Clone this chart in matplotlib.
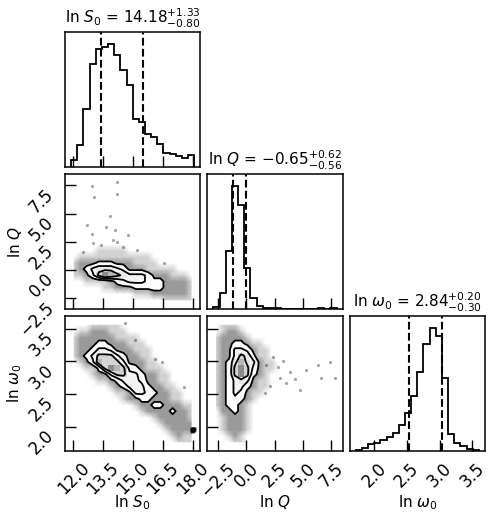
import numpy as np
import matplotlib.pyplot as plt
from matplotlib.colors import LinearSegmentedColormap, PowerNorm

labels = ["ln $S_0$", "ln $Q$", r"ln $\omega_0$"]
medians = [14.18, -0.65, 2.84]
err_lo = [0.80, 0.56, 0.30]
err_hi = [1.33, 0.62, 0.20]
# sample range of each parameter (edges of the 20 histogram bins)
rng_lo = [11.89, -2.91, 1.72]
rng_hi = [18.08, 7.96, 3.60]
ticks = [[12.0, 13.5, 15.0, 16.5, 18.0],
         [-2.5, 0.0, 2.5, 5.0, 7.5],
         [2.0, 2.5, 3.0, 3.5]]

# 1d marginals (counts per bin)
hist_S0 = [22, 65, 175, 310, 355, 360, 368, 335, 290, 245,
           145, 135, 100, 90, 70, 42, 38, 32, 28, 35]
hist_Q = [2, 16, 58, 122, 103, 41, 11, 3.3, 1, 0.5,
          0.5, 0.4, 0.3, 0.3, 0, 0.3, 0, 1.2, 0, 0.5]
hist_w0 = [3, 10, 20, 25, 32, 43, 53, 77, 115, 165,
           235, 320, 367, 343, 217, 50, 25, 15, 7, 3]
hists = [hist_S0, hist_Q, hist_w0]

# 2d densities on the same 20x20 bins, 0-9 scale, top row = highest y bin
dens_S0_Q = [
    "00000000000000000000",
    "00000000000000000000",
    "00000000000000000000",
    "00000000000000000000",
    "00000000000000000000",
    "00000000000000000000",
    "00000000000000000000",
    "00000000000000000000",
    "00000000000000000000",
    "00000000000000000000",
    "00000000000000000000",
    "00001111100000000000",
    "01111111111110000000",
    "12223332221111000000",
    "12356665422211111000",
    "11247987655542221110",
    "00111123455543322221",
    "00000112223333322221",
    "00000000001112222221",
    "00000000000000011111",
]
dens_S0_w0 = [
    "00011111000000000000",
    "01122211100000000000",
    "12222221111000000000",
    "12223322211100000000",
    "12235542221110000000",
    "12357775322110000000",
    "01248777522211000000",
    "00113798743211100000",
    "00012257755322110000",
    "00001123555422110000",
    "00000012355532211000",
    "00000001125543221100",
    "00000000122332221100",
    "00000000001223322211",
    "00000000000122223221",
    "00000000000001222221",
    "00000000000000122222",
    "00000000000000012222",
    "00000000000000001211",
    "00000000000000000111",
]
dens_Q_w0 = [
    "01110000000000000000",
    "01221000000000000000",
    "12222100000000000000",
    "12233211000000000000",
    "12255421100000000000",
    "12257631100000000000",
    "12368652110000000000",
    "12379742110000000000",
    "12379732100000000000",
    "12356521100000000000",
    "12355321100000000000",
    "12354211000000000000",
    "12343210000000000000",
    "12332100000000000000",
    "02232100000000000000",
    "01222100000000000000",
    "01222100000000000000",
    "01222100000000000000",
    "00121000000000000000",
    "00011000000000000000",
]

# stray samples outside the main cloud
out_S0_Q_x = [12.93, 13.06, 14.19, 14.22, 13.85, 12.93, 13.65, 14.77, 14.10, 14.02,
              16.54, 14.19, 12.68, 13.40, 14.50, 13.00, 15.20, 12.50]
out_S0_Q_y = [7.44, 6.43, 6.72, 7.83, 4.79, 3.21, 3.81, 3.06, 3.51, 2.62,
              0.60, 2.47, 3.96, 2.20, 2.00, 2.40, 1.80, 1.60]
out_S0_w0_x = [14.61, 15.11, 16.12, 16.46, 17.55]
out_S0_w0_y = [3.58, 3.33, 3.04, 2.99, 2.60]
out_Q_w0_x = [2.35, 3.24, 2.80, 3.82, 2.94, 4.26, 3.53, 4.70, 6.33, 7.35,
              6.62, 7.79, 5.29, 2.05, 1.76, 1.61]
out_Q_w0_y = [3.07, 3.00, 2.91, 2.83, 2.75, 2.73, 2.67, 2.56, 2.95, 2.99,
              2.74, 2.74, 2.86, 2.62, 2.94, 2.52]
# pile-up of samples at the upper S0 edge
pile_x = [17.95, 18.00, 18.05, 17.98, 18.03, 18.01]
pile_y = [1.96, 1.95, 1.96, 1.94, 1.95, 1.97]

pairs = {(1, 0): (dens_S0_Q, out_S0_Q_x, out_S0_Q_y),
         (2, 0): (dens_S0_w0, out_S0_w0_x, out_S0_w0_y),
         (2, 1): (dens_Q_w0, out_Q_w0_x, out_Q_w0_y)}

cloud_cmap = LinearSegmentedColormap.from_list(
    "cloud", ["white", "#d2d2d2", "#9a9a9a"])
dens_cmap = LinearSegmentedColormap.from_list(
    "dens", [(1, 1, 1, 0), (0, 0, 0, 1)])


def edges(k):
    return np.linspace(rng_lo[k], rng_hi[k], len(hists[k]) + 1)


def lims(k):
    pad = 0.05 * (rng_hi[k] - rng_lo[k])
    return rng_lo[k] - pad, rng_hi[k] + pad


def draw_2d(ax, grid, xk, yk, ox, oy):
    H = np.array([[int(c) for c in row] for row in grid[::-1]], float)
    xe, ye = edges(xk), edges(yk)
    xc = 0.5 * (xe[1:] + xe[:-1])
    yc = 0.5 * (ye[1:] + ye[:-1])
    ax.pcolormesh(xc, yc, np.minimum(H, 2), cmap=cloud_cmap, vmin=0, vmax=2,
                  shading="gouraud")
    ax.plot(ox, oy, "o", ms=2.3, color="k", alpha=0.35, mec="none")
    ax.contourf(xc, yc, H, [2.5, 99], colors="white")
    ax.pcolormesh(xe, ye, np.ma.masked_less(H, 3), cmap=dens_cmap,
                  norm=PowerNorm(2, vmin=0, vmax=11), antialiased=False)
    ax.contour(xc, yc, H, [2.5, 4.5, 6.5], colors="k", linewidths=1.3)


fig, axes = plt.subplots(3, 3, figsize=(4.99, 5.17), dpi=100)
fig.subplots_adjust(left=65 / 499, right=485 / 499, bottom=1 - 451 / 517,
                    top=1 - 32 / 517, wspace=0.052, hspace=0.052)

for i in range(3):
    for j in range(3):
        ax = axes[i, j]
        if j > i:
            ax.set_axis_off()
            continue
        for s in ax.spines.values():
            s.set_linewidth(1.1)
        ax.tick_params(direction="in", length=8, width=1.0, labelsize=12)
        ax.set_xlim(*lims(j))
        ax.set_xticks(ticks[j])
        if i == j:
            ax.stairs(hists[i], edges(i), color="k", lw=1.3)
            ax.set_ylim(0, 1.1 * max(hists[i]))
            ax.set_yticks([])
            for q in (medians[i] - err_lo[i], medians[i] + err_hi[i]):
                ax.axvline(q, color="k", ls="--", lw=1.5)
            ax.set_title("%s = $%.2f_{-%.2f}^{+%.2f}$"
                         % (labels[i], medians[i], err_lo[i], err_hi[i]),
                         fontsize=11)
        else:
            grid, ox, oy = pairs[(i, j)]
            draw_2d(ax, grid, j, i, ox, oy)
            if (i, j) == (2, 0):
                ax.plot(pile_x, pile_y, "s", ms=2.5, color="k", alpha=0.8,
                        mec="none")
            ax.set_ylim(*lims(i))
            ax.set_yticks(ticks[i])
            if j == 0:
                ax.tick_params(axis="y", labelrotation=45, pad=5.5)
                plt.setp(ax.get_yticklabels(), va="top")
                ax.set_ylabel(labels[i], fontsize=11)
                ax.yaxis.set_label_coords(-0.3, 0.5)
            else:
                ax.set_yticklabels([])
        if i == 2:
            ax.tick_params(axis="x", labelrotation=45, pad=6)
            ax.set_xlabel(labels[j], fontsize=11)
            ax.xaxis.set_label_coords(0.5, -0.31)
        else:
            ax.set_xticklabels([])

fig.savefig("out.png", dpi=100)
